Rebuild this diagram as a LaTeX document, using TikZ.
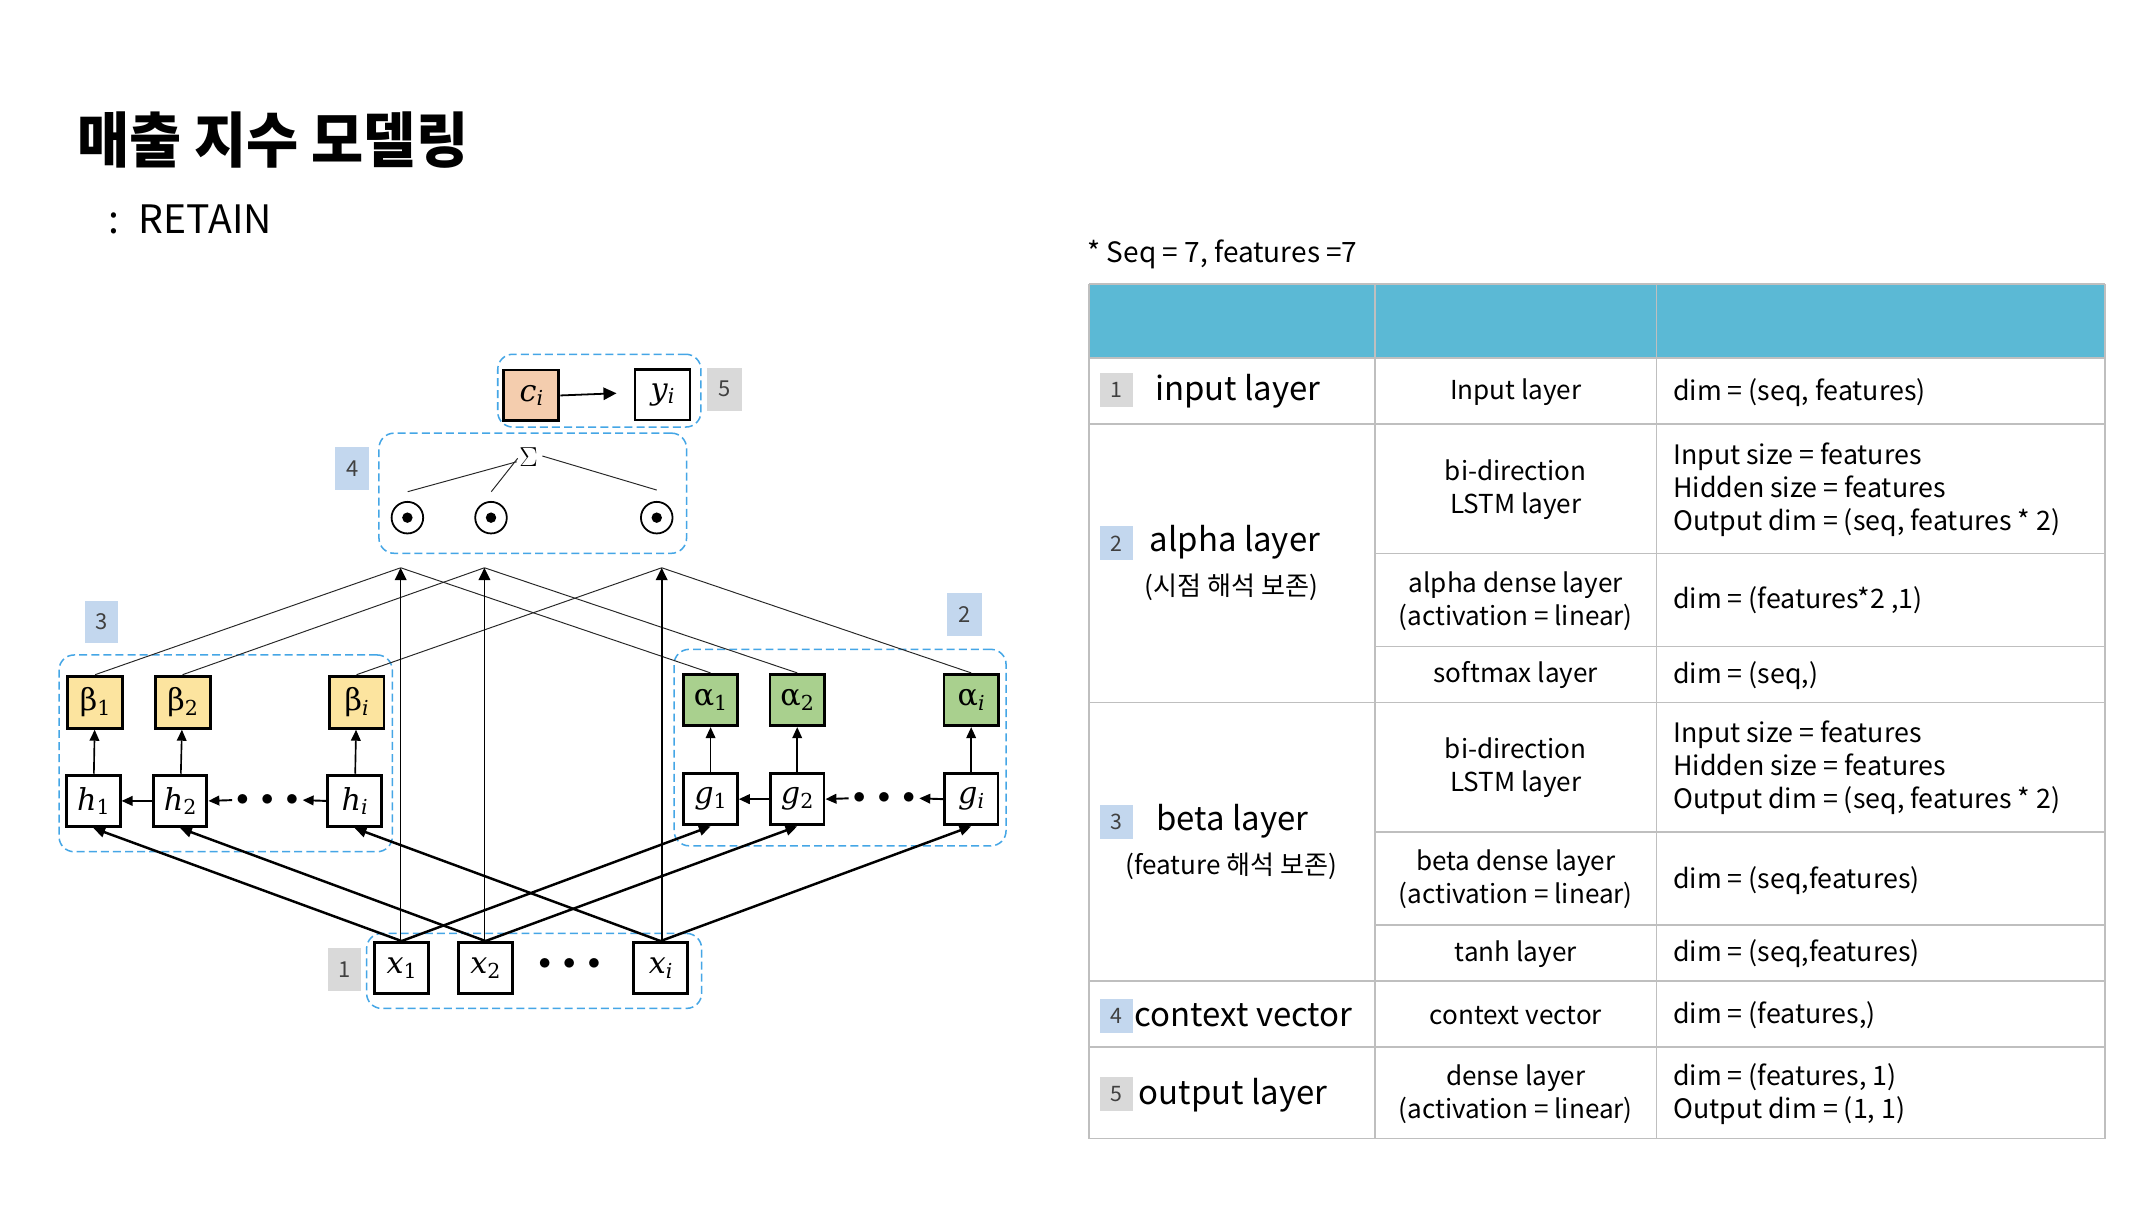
\documentclass[tikz,border=0pt]{standalone}
\usepackage{fix-cm}
\usepackage{fontspec}
\setmainfont{Noto Sans CJK KR}
\newfontfamily\dvs{DejaVu Serif}
\usetikzlibrary{arrows.meta}
\definecolor{hdr}{HTML}{5BB9D5}
\definecolor{grid}{HTML}{BFBFBF}
\definecolor{bgray}{HTML}{D9D9D9}
\definecolor{bblue}{HTML}{C3D7EE}
\definecolor{dblue}{HTML}{45A6E6}
\definecolor{peach}{HTML}{F4CDAE}
\definecolor{yel}{HTML}{FCE49F}
\definecolor{grn}{HTML}{A9D08E}
\newcommand\lbl[3]{{\dvs\fontsize{22}{22}\selectfont#1#2}\raisebox{-3.5pt}{\dvs\fontsize{15}{15}\selectfont#3}}
\tikzset{
  nbox/.style={draw, line width=2.1pt, minimum width=39pt, minimum height=37.5pt, inner sep=0pt},
  grp/.style={draw=dblue, line width=1.1pt, dash pattern=on 5.8pt off 3pt, rounded corners=11pt, inner sep=0pt},
  badge/.style={inner sep=0pt, font=\fontsize{16}{16}\selectfont, text=black!75},
  thin/.style={line width=0.7pt, black!85},
  thk/.style={line width=1.8pt, -{Triangle[length=8.5pt,width=7.5pt]}},
  vup/.style={line width=1.2pt, -{Triangle[length=8pt,width=7pt]}},
  vlong/.style={line width=1.2pt, -{Triangle[length=9pt,width=8.5pt]}},
  chain/.style={line width=1.4pt, -{Triangle[length=8pt,width=7pt]}},
  dotsn/.style={inner sep=0pt, font=\fontsize{18}{18}\selectfont},
  odot/.style={circle, draw, line width=1.3pt, minimum size=23pt, inner sep=0pt},
  ctext/.style={inner sep=0pt, font=\fontsize{19}{24}\selectfont, align=center},
  ltext/.style={inner sep=0pt, anchor=west, font=\fontsize{19.5}{24}\selectfont, align=left},
  big/.style={inner sep=0pt, anchor=west, font=\fontsize{24}{24}\selectfont},
  tbadge/.style={inner sep=0pt, minimum width=24pt, minimum height=24.5pt, font=\fontsize{15.5}{15.5}\selectfont, text=black!75},
}
\begin{document}
\begin{tikzpicture}[x=1pt,y=-1pt]
\useasboundingbox (0,0) rectangle (1560,881.2);
\fill[white] (0,0) rectangle (1560,881.2);

% title
\node[anchor=west, inner sep=0pt, font=\fontsize{41.3}{41.3}\bfseries\selectfont] (title) at (56,102) {\scalebox{1}[1.06]{매출 지수 모델링}};
\node[anchor=base west, inner sep=0pt, font=\fontsize{28.5}{28.5}\selectfont] (colon) at (78.5,170) {:};
\node[anchor=base west, inner sep=0pt, font=\fontsize{28.5}{28.5}\selectfont] (sub) at (101,170) {RETAIN};

% ---------- diagram ----------
% group boxes
\node[grp, minimum width=148pt, minimum height=53pt] (g5) at (436.5,284.5) {};
\node[grp, minimum width=224pt, minimum height=87.5pt] (g4) at (388,359.2) {};
\node[grp, minimum width=242.7pt, minimum height=143.3pt] (g3) at (164.35,548.65) {};
\node[grp, minimum width=241.8pt, minimum height=143.1pt] (g2) at (611.8,544.45) {};
\node[grp, minimum width=244pt, minimum height=54.6pt] (g1) at (389,707.1) {};

% badges
\node[badge, fill=bgray, minimum width=25.5pt, minimum height=31pt] (b5) at (527.5,283.5) {5};
\node[badge, fill=bblue, minimum width=25pt, minimum height=31.5pt] (b4) at (256.5,341.3) {4};
\node[badge, fill=bblue, minimum width=24pt, minimum height=30pt] (b3) at (73.7,453) {3};
\node[badge, fill=bblue, minimum width=25pt, minimum height=31pt] (b2) at (702.5,447.5) {2};
\node[badge, fill=bgray, minimum width=23.8pt, minimum height=31pt] (b1) at (250.8,706) {1};

% output
\node[nbox, fill=peach, minimum width=40pt, minimum height=37pt] (c) at (387,288) {\lbl{\itshape}{c}{\itshape i}};
\node[nbox, minimum width=40pt, minimum height=37pt] (yy) at (482.5,287.4) {\lbl{\itshape}{y}{\itshape i}};
\coordinate (ctip) at (449,286.4);
\draw[line width=1.3pt, -{Triangle[length=9.5pt,width=9pt]}] (c.east) -- (ctip);

% sum
\node[inner sep=0pt, font=\fontsize{20}{20}\selectfont] (sig) at (385,332.6) {$\Sigma$};
\node[odot] (o1) at (296.7,377) {};
\node[odot] (o2) at (357.6,377) {};
\node[odot] (o3) at (478.3,377) {};
\fill (o1) circle (3.8pt);
\fill (o2) circle (3.8pt);
\fill (o3) circle (3.8pt);
\coordinate (s1) at (296.9,358.1);
\coordinate (s2) at (357.8,358.1);
\coordinate (s3) at (478.3,356.9);
\coordinate (sl) at (376.3,336.3);
\coordinate (sm) at (377,333.8);
\coordinate (sr) at (395,332.1);
\draw[thin] (s1) -- (sl);
\draw[thin] (s2) -- (sm);
\draw[thin] (sr) -- (s3);

% beta side
\node[nbox, fill=yel, minimum width=40pt, minimum height=38pt] (be1) at (69.3,511.4) {\lbl{}{β}{1}};
\node[nbox, fill=yel, minimum width=40pt, minimum height=38pt] (be2) at (133,511.4) {\lbl{}{β}{2}};
\node[nbox, fill=yel, minimum width=40pt, minimum height=38pt] (bei) at (259.7,511.4) {\lbl{}{β}{\itshape i}};
\node[nbox] (h1) at (68,583.3) {\lbl{\itshape}{h}{1}};
\node[nbox] (h2) at (131.2,583.3) {\lbl{\itshape}{h}{2}};
\node[nbox] (hi) at (258.3,583.3) {\lbl{\itshape}{h}{\itshape i}};
\node[dotsn] (hd) at (194.7,582.7) {$\bullet\;\bullet\;\bullet$};

% alpha side
\node[nbox, fill=grn, minimum width=39.6pt, minimum height=37.4pt] (al1) at (517.5,509.8) {\lbl{}{α}{1}};
\node[nbox, fill=grn, minimum width=39.6pt, minimum height=37.4pt] (al2) at (580.6,509.8) {\lbl{}{α}{2}};
\node[nbox, fill=grn, minimum width=39.6pt, minimum height=37.4pt] (ali) at (707.3,509.8) {\lbl{}{α}{\itshape i}};
\node[nbox] (gg1) at (517.5,582) {\lbl{\itshape}{g}{1}};
\node[nbox] (gg2) at (580.6,582) {\lbl{\itshape}{g}{2}};
\node[nbox] (ggi) at (707.3,582) {\lbl{\itshape}{g}{\itshape i}};
\node[dotsn] (gd) at (643.8,581.4) {$\bullet\;\bullet\;\bullet$};

% inputs
\node[nbox, minimum height=37pt] (x1) at (292.5,704.9) {\lbl{\itshape}{x}{1}};
\node[nbox, minimum height=37pt] (x2) at (353.6,704.9) {\lbl{\itshape}{x}{2}};
\node[nbox, minimum height=37pt] (xi) at (481.1,704.9) {\lbl{\itshape}{x}{\itshape i}};
\node[dotsn] (xd) at (414.7,702.3) {$\bullet\;\bullet\;\bullet$};

% tips below sum box
\coordinate (t1) at (291.8,413.5);
\coordinate (t2) at (352.8,413.5);
\coordinate (t3) at (481.9,413.5);

% thin lines to tips
\draw[thin] (be1.north) -- (t1);
\draw[thin] (be2.north) -- (t2);
\draw[thin] (bei.north) -- (t3);
\draw[thin] (al1.north) -- (t1);
\draw[thin] (al2.north) -- (t2);
\draw[thin] (ali.north) -- (t3);

% vertical arrows
\draw[vlong] (x1.north -| t1) -- (t1);
\draw[vlong] (x2.north -| t2) -- (t2);
\draw[vlong] (xi.north -| t3) -- (t3);

% h / g up
\draw[vup] (h1) -- (be1);
\draw[vup] (h2) -- (be2);
\draw[vup] (hi) -- (bei);
\draw[vup] (gg1) -- (al1);
\draw[vup] (gg2) -- (al2);
\draw[vup] (ggi) -- (ali);

% backward chains
\draw[chain] (h2.west) -- (h1.east);
\draw[chain] ([xshift=-3pt]hd.west) -- (h2.east);
\draw[chain] (hi.west) -- ([xshift=3pt]hd.east);
\draw[chain] (gg2.west) -- (gg1.east);
\draw[chain] ([xshift=-3pt]gd.west) -- (gg2.east);
\draw[chain] (ggi.west) -- ([xshift=3pt]gd.east);

% diagonal inputs
\draw[thk] (x1.north) -- (h1.south);
\draw[thk] (x2.north) -- (h2.south);
\draw[thk] (xi.north) -- (hi.south);
\draw[thk] (x1.north) -- (gg1.south);
\draw[thk] (x2.north) -- (gg2.south);
\draw[thk] (xi.north) -- (ggi.south);

% ---------- table ----------
\begin{scope}[scale=0.9954]
\node[anchor=west, inner sep=0pt, font=\fontsize{20.4}{20.4}\selectfont] (note) at (795.5,186) {* Seq = 7, features =7};
\fill[hdr] (797,208) rectangle (1540,262);
\begin{scope}[grid, line width=1.3pt]
\draw (797,208) -- (797,833);
\draw (1006,208) -- (1006,833);
\draw (1212,208) -- (1212,833);
\draw (1540,208) -- (1540,833);
\draw (797,208) -- (1540,208);
\foreach \yy in {262,310,514,718,766,833} \draw (797,\yy) -- (1540,\yy);
\foreach \yy in {405,473,609,677} \draw (1006,\yy) -- (1540,\yy);
\end{scope}

% column 1
\node[tbadge, fill=bgray] (tb1) at (817,285.3) {1};
\node[big] (r1) at (845,286.5) {input layer};
\node[tbadge, fill=bblue] (tb2) at (817,397.5) {2};
\node[big] (r2) at (841,397) {alpha layer};
\node[ctext] (r2k) at (901,430) {(시점 해석 보존)};
\node[tbadge, fill=bblue] (tb3) at (817,601.5) {3};
\node[big] (r3) at (846,601) {beta layer};
\node[ctext] (r3k) at (901,634) {(feature 해석 보존)};
\node[tbadge, fill=bblue] (tb4) at (817,743.5) {4};
\node[big] (r4) at (830,743) {context vector};
\node[tbadge, fill=bgray] (tb5) at (817,800.5) {5};
\node[big] (r5) at (833,801) {output layer};

% column 2
\node[ctext] (m1) at (1109,287) {Input layer};
\node[ctext] (m2) at (1109,358) {bi-direction\\LSTM layer};
\node[ctext] (m3) at (1109,439.5) {alpha dense layer\\(activation = linear)};
\node[ctext] (m4) at (1109,494) {softmax layer};
\node[ctext] (m5) at (1109,562) {bi-direction\\LSTM layer};
\node[ctext] (m6) at (1109,643.5) {beta dense layer\\(activation = linear)};
\node[ctext] (m7) at (1109,698) {tanh layer};
\node[ctext] (m8) at (1109,743) {context vector};
\node[ctext] (m9) at (1109,800.5) {dense layer\\(activation = linear)};

% column 3
\node[ltext] (d1) at (1224,287) {dim = (seq, features)};
\node[ltext] (d2) at (1224,358) {Input size = features\\Hidden size = features\\Output dim = (seq, features * 2)};
\node[ltext] (d3) at (1224,439) {dim = (features*2 ,1)};
\node[ltext] (d4) at (1224,494) {dim = (seq,)};
\node[ltext] (d5) at (1224,562) {Input size = features\\Hidden size = features\\Output dim = (seq, features * 2)};
\node[ltext] (d6) at (1224,644) {dim = (seq,features)};
\node[ltext] (d7) at (1224,698) {dim = (seq,features)};
\node[ltext] (d8) at (1224,743) {dim = (features,)};
\node[ltext] (d9) at (1224,800.5) {dim = (features, 1)\\Output dim = (1, 1)};
\end{scope}
\end{tikzpicture}
\end{document}
